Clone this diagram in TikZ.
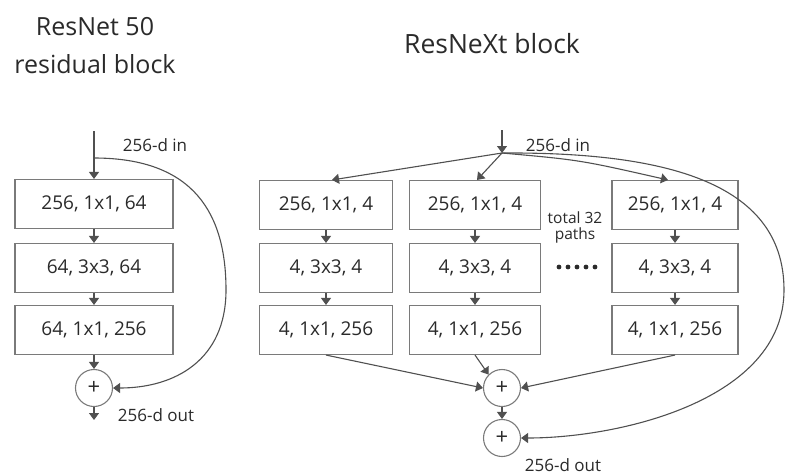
\documentclass[tikz,border=0pt]{standalone}
\usepackage{fontspec}
\setmainfont{Open Sans}
\usetikzlibrary{arrows.meta}
\definecolor{linegray}{HTML}{505050}
\definecolor{boxgray}{HTML}{7A7A7A}
\definecolor{txtgray}{HTML}{2A2A2A}
\begin{document}
\begin{tikzpicture}[x=1pt,y=-1pt,
  layer/.style={draw=boxgray, line width=1.1pt, minimum height=49pt, inner sep=0pt,
    text=txtgray, font=\fontsize{19}{22}\selectfont},
  sumnode/.style={circle, draw=boxgray, line width=1.1pt, minimum size=37pt, inner sep=0pt,
    text=txtgray, font=\fontsize{22}{24}\selectfont},
  flow/.style={draw=linegray, line width=1.1pt, -{Triangle[length=7pt,width=10pt]}},
  lbl/.style={text=txtgray, font=\fontsize{17}{19}\selectfont},
  heading/.style={text=txtgray, anchor=base, font=\fontsize{25}{30}\selectfont}]
\useasboundingbox (0,0) rectangle (787,475);

% headings
\node[heading] (t1) at (95,35) {ResNet 50};
\node[heading] (t2) at (95,73) {residual block};
\node[heading, font=\fontsize{26.5}{30}\selectfont] (t3) at (492,53) {ResNeXt block};

% ---------- ResNet 50 residual block ----------
\node[layer, minimum width=158pt] (a1) at (94,204) {256, 1x1, 64};
\node[layer, minimum width=158pt] (a2) at (94,268) {64, 3x3, 64};
\node[layer, minimum width=158pt] (a3) at (94,330) {64, 1x1, 256};
\node[sumnode] (as) at (94,388) {+};
\coordinate (ain) at (94,131);
\coordinate (asplit) at (94,158);
\coordinate (aout) at (94,420);
\node[lbl] (ainl) at (155,145) {256-d in};
\node[lbl] (aoutl) at (156,415) {256-d out};

\draw[flow] (ain) -- (a1);
\draw[flow] (a1) -- (a2);
\draw[flow] (a2) -- (a3);
\draw[flow] (a3) -- (as);
\draw[flow] (as) -- (aout);
\draw[flow] (asplit) .. controls (195,158) and (226,215) .. (226,290)
  .. controls (226,360) and (175,388) .. (as.east);

% ---------- ResNeXt block ----------
\foreach \c/\x/\w in {1/326/133, 2/475/131, 3/675/126} {
  \node[layer, minimum width=\w pt] (c\c1) at (\x,205) {256, 1x1, 4};
  \node[layer, minimum width=\w pt] (c\c2) at (\x,268) {4, 3x3, 4};
  \node[layer, minimum width=\w pt] (c\c3) at (\x,330) {4, 1x1, 256};
  \draw[flow] (c\c1) -- (c\c2);
  \draw[flow] (c\c2) -- (c\c3);
}
\node[sumnode] (s1) at (502,388) {+};
\node[sumnode] (s2) at (502,438) {+};
\coordinate (bin) at (502,130);
\coordinate (fan) at (502,153);
\node[lbl] (binl) at (558,145) {256-d in};
\node[lbl] (boutl) at (563,465) {256-d out};
\node[lbl, font=\fontsize{15.5}{17}\selectfont, align=center] (tot) at (575,227) {total 32\\[-1pt]paths};
\foreach \i in {0,...,4}
  \fill[txtgray] (559+\i*9,267) circle (2.4pt);

\draw[flow] (bin) -- (fan);
\draw[flow] (fan) -- ([xshift=6pt]c11.north);
\draw[flow] (fan) -- ([xshift=2pt]c21.north);
\draw[flow] (fan) .. controls (580,160) .. ([xshift=-7pt]c31.north);
\draw[flow] (c13.south) -- (s1.west);
\draw[flow] (c23.south) -- (s1.north west);
\draw[flow] (c33.south) -- (s1.east);
\draw[flow] (s1) -- (s2);
\draw[flow] (fan) .. controls (660,152) and (784,180) .. (784,290)
  .. controls (784,400) and (620,438) .. (s2.east);
\end{tikzpicture}
\end{document}
